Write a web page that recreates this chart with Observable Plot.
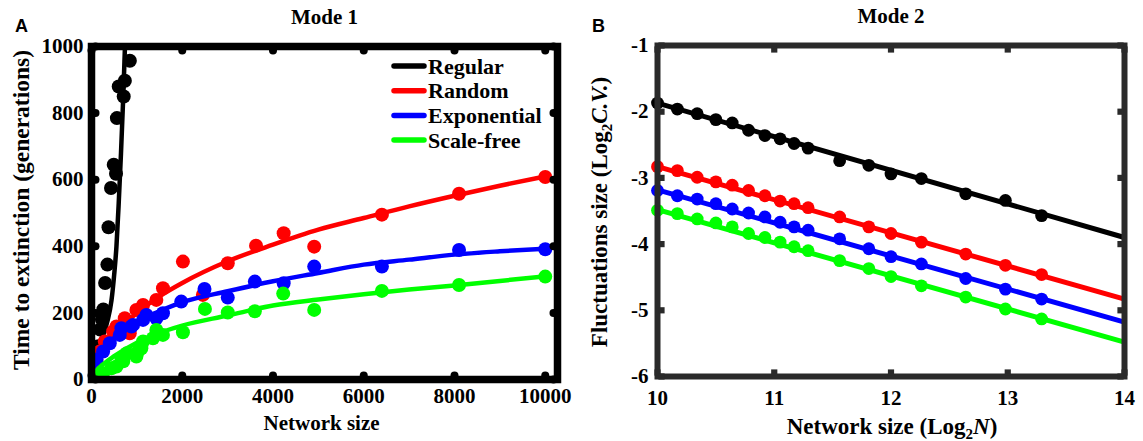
<!DOCTYPE html>
<html><head><meta charset="utf-8">
<script src="https://cdn.jsdelivr.net/npm/d3@7"></script>
<script src="https://cdn.jsdelivr.net/npm/@observablehq/plot@0.6"></script>
<style>
body{margin:0;background:#fff;}
#wrap{position:relative;width:1143px;height:441px;overflow:hidden;}
#a{position:absolute;left:0;top:0;}
#b{position:absolute;left:580px;top:0;}
svg{overflow:visible;}
</style></head><body>
<div id="wrap"><div id="a"></div><div id="b"></div></div>
<script>
// ---------- shared ----------
const modeTitles = ["Mode 1", "Mode 2"];
const panelLetters = ["A", "B"];
const seriesNames = ["Regular", "Random", "Exponential", "Scale-free"];
const seriesColors = ["#000000", "#ff0000", "#0000ff", "#00ff00"];

// ---------- Panel A : time to extinction vs network size ----------
const xTicksA = [0, 2000, 4000, 6000, 8000, 10000];
const yTicksA = [0, 200, 400, 600, 800, 1000];
const regularN = [40, 100, 150, 190, 230, 260, 300, 350, 375, 430, 490, 540, 560, 600, 710, 735, 845];
const regularT = [35, 70, 100, 150, 180, 210, 290, 345, 457, 575, 645, 618, 785, 880, 850, 897, 957];
const randomN = [110, 183, 293, 476, 549, 733, 843, 989, 1136, 1429, 1575, 2015, 2454, 3003, 3626, 4235, 4908, 6400, 8100, 10000];
const randomT = [54, 84, 114, 144, 159, 184, 139, 209, 224, 239, 274, 354, 254, 349, 402, 439, 399, 495, 558, 608];
const exponentialN = [110, 256, 403, 623, 659, 879, 916, 1136, 1209, 1429, 1575, 1978, 2490, 3003, 3600, 4235, 4908, 6400, 8100, 10000];
const exponentialT = [60, 84, 109, 134, 154, 159, 164, 179, 194, 184, 199, 234, 272, 246, 294, 289, 339, 339, 389, 391];
const scalefreeN = [110, 256, 439, 549, 659, 700, 780, 989, 1026, 1099, 1136, 1355, 1429, 1575, 2015, 2500, 3003, 3600, 4225, 4908, 6400, 8100, 10000];
const scalefreeT = [9, 19, 34, 39, 64, 55, 79, 69, 84, 94, 114, 124, 149, 134, 142, 212, 201, 205, 258, 209, 266, 284, 309];
// fitted curves
const regularFitN = [0, 50, 150, 270, 350, 440, 500, 550, 600, 650, 700, 740, 770];
const regularFitT = [0, 55, 100, 138, 175, 237, 315, 400, 530, 680, 850, 1010, 1120];
const fitN = [0, 100, 250, 500, 1000, 1500, 2000, 3000, 4000, 5000, 6000, 7000, 8000, 9000, 10000];
const randomFitT = [0, 45, 80, 130, 200, 250, 290, 355, 405, 450, 485, 520, 552, 582, 610];
const exponentialFitT = [0, 55, 90, 125, 175, 205, 232, 265, 295, 320, 345, 360, 375, 385, 393];
const scalefreeFitT = [0, 25, 45, 70, 110, 140, 162, 192, 222, 240, 256, 270, 282, 296, 310];

// ---------- Panel B : fluctuations size vs log2 N ----------
const xTicksB = [10, 11, 12, 13, 14];
const yTicksB = [-6, -5, -4, -3, -2, -1];
const log2N = [10, 10.17, 10.34, 10.50, 10.64, 10.78, 10.92, 11.05, 11.17, 11.29, 11.56, 11.81, 12.0, 12.26, 12.64, 12.98, 13.29];
const regularCV = [-1.87, -1.96, -2.03, -2.12, -2.17, -2.28, -2.36, -2.41, -2.48, -2.55, -2.74, -2.81, -2.94, -3.01, -3.24, -3.34, -3.57];
const randomCV = [-2.83, -2.89, -2.99, -3.06, -3.11, -3.19, -3.27, -3.35, -3.39, -3.45, -3.59, -3.74, -3.84, -3.97, -4.15, -4.32, -4.46];
const exponentialCV = [-3.19, -3.27, -3.32, -3.39, -3.47, -3.53, -3.59, -3.67, -3.74, -3.79, -3.92, -4.07, -4.19, -4.30, -4.52, -4.68, -4.83];
const scalefreeCV = [-3.49, -3.54, -3.62, -3.68, -3.74, -3.84, -3.90, -3.97, -4.04, -4.10, -4.25, -4.37, -4.49, -4.63, -4.80, -4.98, -5.13];
const fitLog2N = [10, 14];
const regularFitCV = [-1.87, -3.90];
const randomFitCV = [-2.83, -4.83];
const exponentialFitCV = [-3.18, -5.18];
const scalefreeFitCV = [-3.48, -5.48];

const FONT = "'Liberation Serif', 'Times New Roman', serif";
const SANS = "'Liberation Sans', Arial, sans-serif";
const colorScale = {domain: seriesNames, range: seriesColors};
const rows = (xs, ys, name) => xs.map((x, i) => ({x, y: ys[i], series: name}));

// ---------- build panel A ----------
const seriesA = [
  [regularN, regularT, regularFitN, regularFitT],
  [randomN, randomT, fitN, randomFitT],
  [exponentialN, exponentialT, fitN, exponentialFitT],
  [scalefreeN, scalefreeT, fitN, scalefreeFitT]
];
const marksA = [];
seriesA.forEach(([n, t, fn, ft], i) => {
  marksA.push(Plot.dot(rows(n, t, seriesNames[i]), {x: "x", y: "y", r: 7, fill: "series", clip: true}));
  marksA.push(Plot.line(rows(fn, ft, seriesNames[i]), {x: "x", y: "y", stroke: "series", strokeWidth: 4.5, curve: "monotone-x", clip: true}));
});

const plotA = Plot.plot({
  width: 580, height: 441,
  marginLeft: 91, marginRight: 23, marginTop: 46, marginBottom: 62,
  x: {domain: [0, 10270]},
  y: {domain: [0, 1000]},
  color: colorScale,
  style: {fontFamily: FONT, fontWeight: "bold", fontSize: "21px", color: "#000", background: "transparent"},
  marks: [
    Plot.axisX({ticks: xTicksA, tickSize: 0, tickPadding: 9, label: null, tickFormat: d => String(d)}),
    Plot.axisY({ticks: yTicksA, tickSize: 0, tickPadding: 8, label: null, tickFormat: d => String(d)}),
    ...marksA,
    Plot.frame({stroke: "#000", strokeWidth: 7.5}),
    Plot.dot(xTicksA, {x: d => d, frameAnchor: "bottom", dy: -4, r: 4, fill: "#000"}),
    Plot.dot(xTicksA, {x: d => d, frameAnchor: "top", dy: 4, r: 4, fill: "#000"}),
    Plot.dot(yTicksA, {y: d => d, frameAnchor: "left", dx: 4, r: 4, fill: "#000"}),
    Plot.dot(yTicksA, {y: d => d, frameAnchor: "right", dx: -4, r: 4, fill: "#000"}),
    Plot.text([modeTitles[0]], {text: d => d, frameAnchor: "top", textAnchor: "middle", lineAnchor: "middle", dy: -29, fontSize: 21, fontWeight: "bold"}),
    Plot.text([panelLetters[0]], {text: d => d, frameAnchor: "top-left", textAnchor: "middle", lineAnchor: "middle", dx: -70, dy: -20, fontSize: 18, fontWeight: "bold", fontFamily: SANS}),
    Plot.text(["Network size"], {text: d => d, frameAnchor: "bottom", textAnchor: "middle", lineAnchor: "middle", dy: 44, dx: -3, fontSize: 21, fontWeight: "bold"}),
    Plot.text(["Time to extinction (generations)"], {text: d => d, frameAnchor: "left", textAnchor: "middle", lineAnchor: "middle", dx: -70, dy: -3, rotate: -90, fontSize: 23.5, fontWeight: "bold"})
  ]
});
document.getElementById("a").appendChild(plotA);

// legend (panel A)
{
  const svg = d3.select(plotA);
  const g = svg.append("g").attr("font-family", FONT).attr("font-weight", "bold").attr("font-size", 22).attr("text-anchor", "start");
  seriesNames.forEach((name, i) => {
    const y = 66 + i * 24.7;
    g.append("line").attr("x1", 394).attr("x2", 424).attr("y1", y).attr("y2", y)
      .attr("stroke", seriesColors[i]).attr("stroke-width", 5.5).attr("stroke-linecap", "round");
    g.append("text").attr("x", 428).attr("y", y).attr("dy", "0.35em").attr("fill", "#000").attr("text-anchor", "start").text(name);
  });
}

// ---------- build panel B ----------
const seriesB = [
  [regularCV, regularFitCV], [randomCV, randomFitCV], [exponentialCV, exponentialFitCV], [scalefreeCV, scalefreeFitCV]
];
const marksB = [];
seriesB.forEach(([cv, fcv], i) => {
  marksB.push(Plot.line(rows(fitLog2N, fcv, seriesNames[i]), {x: "x", y: "y", stroke: "series", strokeWidth: 5}));
  marksB.push(Plot.dot(rows(log2N, cv, seriesNames[i]), {x: "x", y: "y", r: 6.4, fill: "series"}));
});

const plotB = Plot.plot({
  width: 563, height: 441,
  marginLeft: 77, marginRight: 19, marginTop: 45, marginBottom: 65,
  x: {domain: [10, 14]},
  y: {domain: [-6, -1]},
  color: colorScale,
  style: {fontFamily: FONT, fontWeight: "bold", fontSize: "21px", color: "#000", background: "transparent"},
  marks: [
    Plot.axisX({ticks: xTicksB, tickSize: 0, tickPadding: 14, label: null, tickFormat: d => String(d)}),
    Plot.axisY({ticks: yTicksB, tickSize: 0, tickPadding: 9, label: null, tickFormat: d => String(d)}),
    ...marksB,
    Plot.frame({stroke: "#2a2a2a", strokeWidth: 6}),
    Plot.dot(xTicksB, {x: d => d, frameAnchor: "bottom", dy: -4, r: 3.5, symbol: "square", fill: "#2a2a2a"}),
    Plot.dot(xTicksB, {x: d => d, frameAnchor: "top", dy: 4, r: 3.5, symbol: "square", fill: "#2a2a2a"}),
    Plot.dot(yTicksB, {y: d => d, frameAnchor: "left", dx: 4, r: 3.5, symbol: "square", fill: "#2a2a2a"}),
    Plot.dot(yTicksB, {y: d => d, frameAnchor: "right", dx: -4, r: 3.5, symbol: "square", fill: "#2a2a2a"}),
    Plot.text([modeTitles[1]], {text: d => d, frameAnchor: "top", textAnchor: "middle", lineAnchor: "middle", dy: -29, fontSize: 21, fontWeight: "bold"}),
    Plot.text([panelLetters[1]], {text: d => d, frameAnchor: "top-left", textAnchor: "middle", lineAnchor: "middle", dx: -59, dy: -19, fontSize: 18, fontWeight: "bold", fontFamily: SANS})
  ]
});
document.getElementById("b").appendChild(plotB);

// rich-text axis titles (panel B)
{
  const svg = d3.select(plotB);
  const xl = svg.append("text").attr("x", 312).attr("y", 434).attr("text-anchor", "middle")
    .attr("font-family", FONT).attr("font-weight", "bold").attr("font-size", 23).attr("fill", "#000");
  xl.append("tspan").text("Network size (Log");
  xl.append("tspan").attr("font-size", 15).attr("dy", 5).text("2");
  xl.append("tspan").attr("font-style", "italic").attr("dy", -5).text("N");
  xl.append("tspan").text(")");

  const yl = svg.append("text").attr("transform", "translate(27,212) rotate(-90)").attr("text-anchor", "middle")
    .attr("font-family", FONT).attr("font-weight", "bold").attr("font-size", 23).attr("fill", "#000");
  yl.append("tspan").text("Fluctuations size (Log");
  yl.append("tspan").attr("font-size", 15).attr("dy", 5).text("2");
  yl.append("tspan").attr("font-style", "italic").attr("dy", -5).text("C.V.");
  yl.append("tspan").text(")");
}
</script>
</body></html>
